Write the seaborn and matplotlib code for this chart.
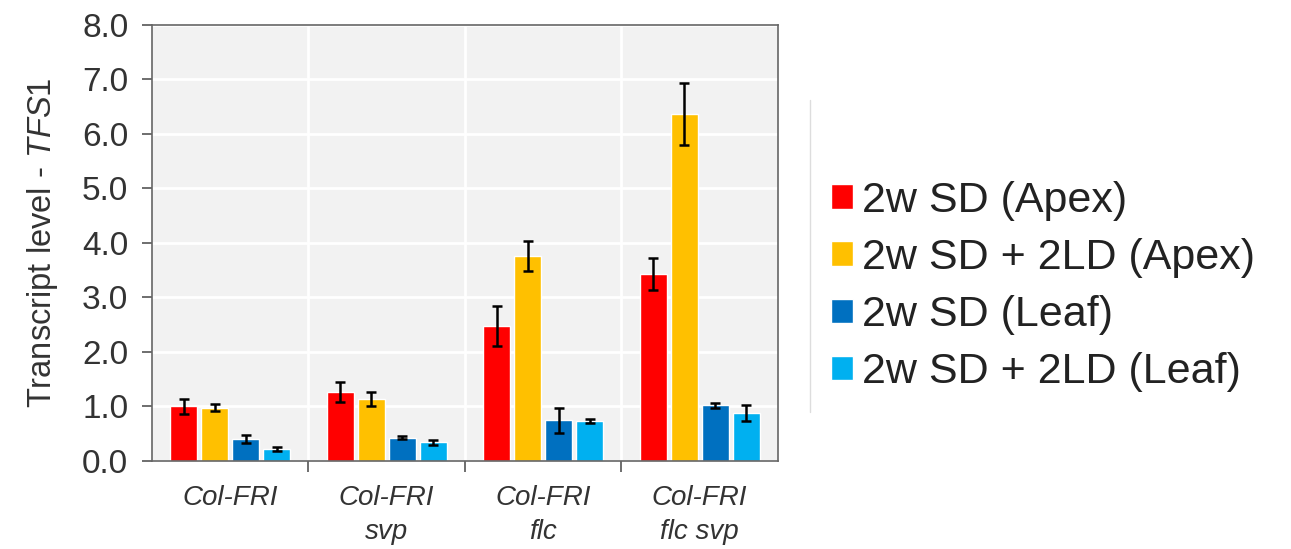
import pandas as pd
import matplotlib
matplotlib.use('Agg')
import matplotlib.pyplot as plt
import seaborn as sns
from matplotlib.lines import Line2D
from matplotlib.ticker import FixedLocator, FormatStrFormatter

# genotypes on the x axis, four treatments per genotype
genotypes = ['Col-FRI', 'Col-FRI\nsvp', 'Col-FRI\nflc', 'Col-FRI\nflc svp']
conditions = ['2w SD (Apex)', '2w SD + 2LD (Apex)', '2w SD (Leaf)', '2w SD + 2LD (Leaf)']
colors = ['#ff0000', '#ffc000', '#0070c0', '#00b0f0']

sd_apex = [1.00, 1.27, 2.48, 3.43]
sd_apex_err = [0.14, 0.18, 0.37, 0.29]
ld_apex = [0.98, 1.14, 3.76, 6.36]
ld_apex_err = [0.06, 0.13, 0.27, 0.57]
sd_leaf = [0.40, 0.43, 0.75, 1.02]
sd_leaf_err = [0.07, 0.03, 0.23, 0.05]
ld_leaf = [0.22, 0.34, 0.73, 0.88]
ld_leaf_err = [0.03, 0.05, 0.04, 0.14]

values = [sd_apex, ld_apex, sd_leaf, ld_leaf]
errors = [sd_apex_err, ld_apex_err, sd_leaf_err, ld_leaf_err]

rows = []
for cond, vals in zip(conditions, values):
    for g, v in zip(genotypes, vals):
        rows.append({'genotype': g, 'condition': cond, 'level': v})
df = pd.DataFrame(rows)

sns.set_style('white', {'axes.facecolor': '#f2f2f2'})
plt.rcParams['font.family'] = ['Liberation Sans', 'DejaVu Sans']
plt.rcParams['mathtext.fontset'] = 'custom'
plt.rcParams['mathtext.it'] = 'Liberation Sans:italic'
plt.rcParams['mathtext.rm'] = 'Liberation Sans'

fig = plt.figure(figsize=(12.91, 5.49), dpi=100)
ax = fig.add_axes([0.1177, 0.1603, 0.4849, 0.7942])

sns.barplot(data=df, x='genotype', y='level', hue='condition', hue_order=conditions,
            palette=colors, saturation=1, width=0.79, gap=0.13, errorbar=None, ax=ax)

# error bars on top of each bar
xs, ys, es = [], [], []
for container, errs in zip(ax.containers, errors):
    for bar, e in zip(container, errs):
        xs.append(bar.get_x() + bar.get_width() / 2)
        ys.append(bar.get_height())
        es.append(e)
ax.errorbar(xs, ys, yerr=es, fmt='none', ecolor='black', elinewidth=1.8,
            capsize=3.6, capthick=1.8, zorder=5)

ax.set_ylim(0, 8)
ax.set_xlim(-0.5, 3.5)
ax.set_yticks(range(0, 9))
ax.yaxis.set_major_formatter(FormatStrFormatter('%.1f'))
ax.tick_params(axis='y', direction='out', length=7, width=1.2, color='#555555',
               labelsize=24, labelcolor='#333333', pad=10, left=True)
ax.xaxis.set_minor_locator(FixedLocator([0.5, 1.5, 2.5]))
ax.tick_params(axis='x', which='major', length=0, labelsize=20, pad=17)
ax.tick_params(axis='x', which='minor', direction='out', length=8, width=1.2,
               color='#555555', bottom=True)
for lab in ax.get_xticklabels():
    lab.set_style('italic')
    lab.set_color('#333333')
    lab.set_linespacing(1.4)

ax.grid(axis='y', which='major', color='white', linewidth=2)
ax.grid(axis='x', which='minor', color='white', linewidth=2)
ax.set_axisbelow(True)
for s in ax.spines.values():
    s.set_color('#666666')
    s.set_linewidth(1.2)

ax.set_xlabel('')
ax.set_ylabel(r'Transcript level - $\it{TFS1}$', fontsize=23.5, color='#333333', labelpad=16)

handles, labels = ax.get_legend_handles_labels()
ax.get_legend().remove()
fig.legend(handles, labels, loc='center left', bbox_to_anchor=(0.614, 0.478),
           frameon=False, fontsize=31, handlelength=0.5, handleheight=0.5,
           handletextpad=0.2, labelspacing=0.4, labelcolor='#222222')

# faint separator line left of the legend
fig.add_artist(Line2D([810 / 1291, 810 / 1291], [1 - 100 / 549, 1 - 412 / 549],
                      color='#dddddd', linewidth=1))

fig.savefig('out.png', dpi=100)
